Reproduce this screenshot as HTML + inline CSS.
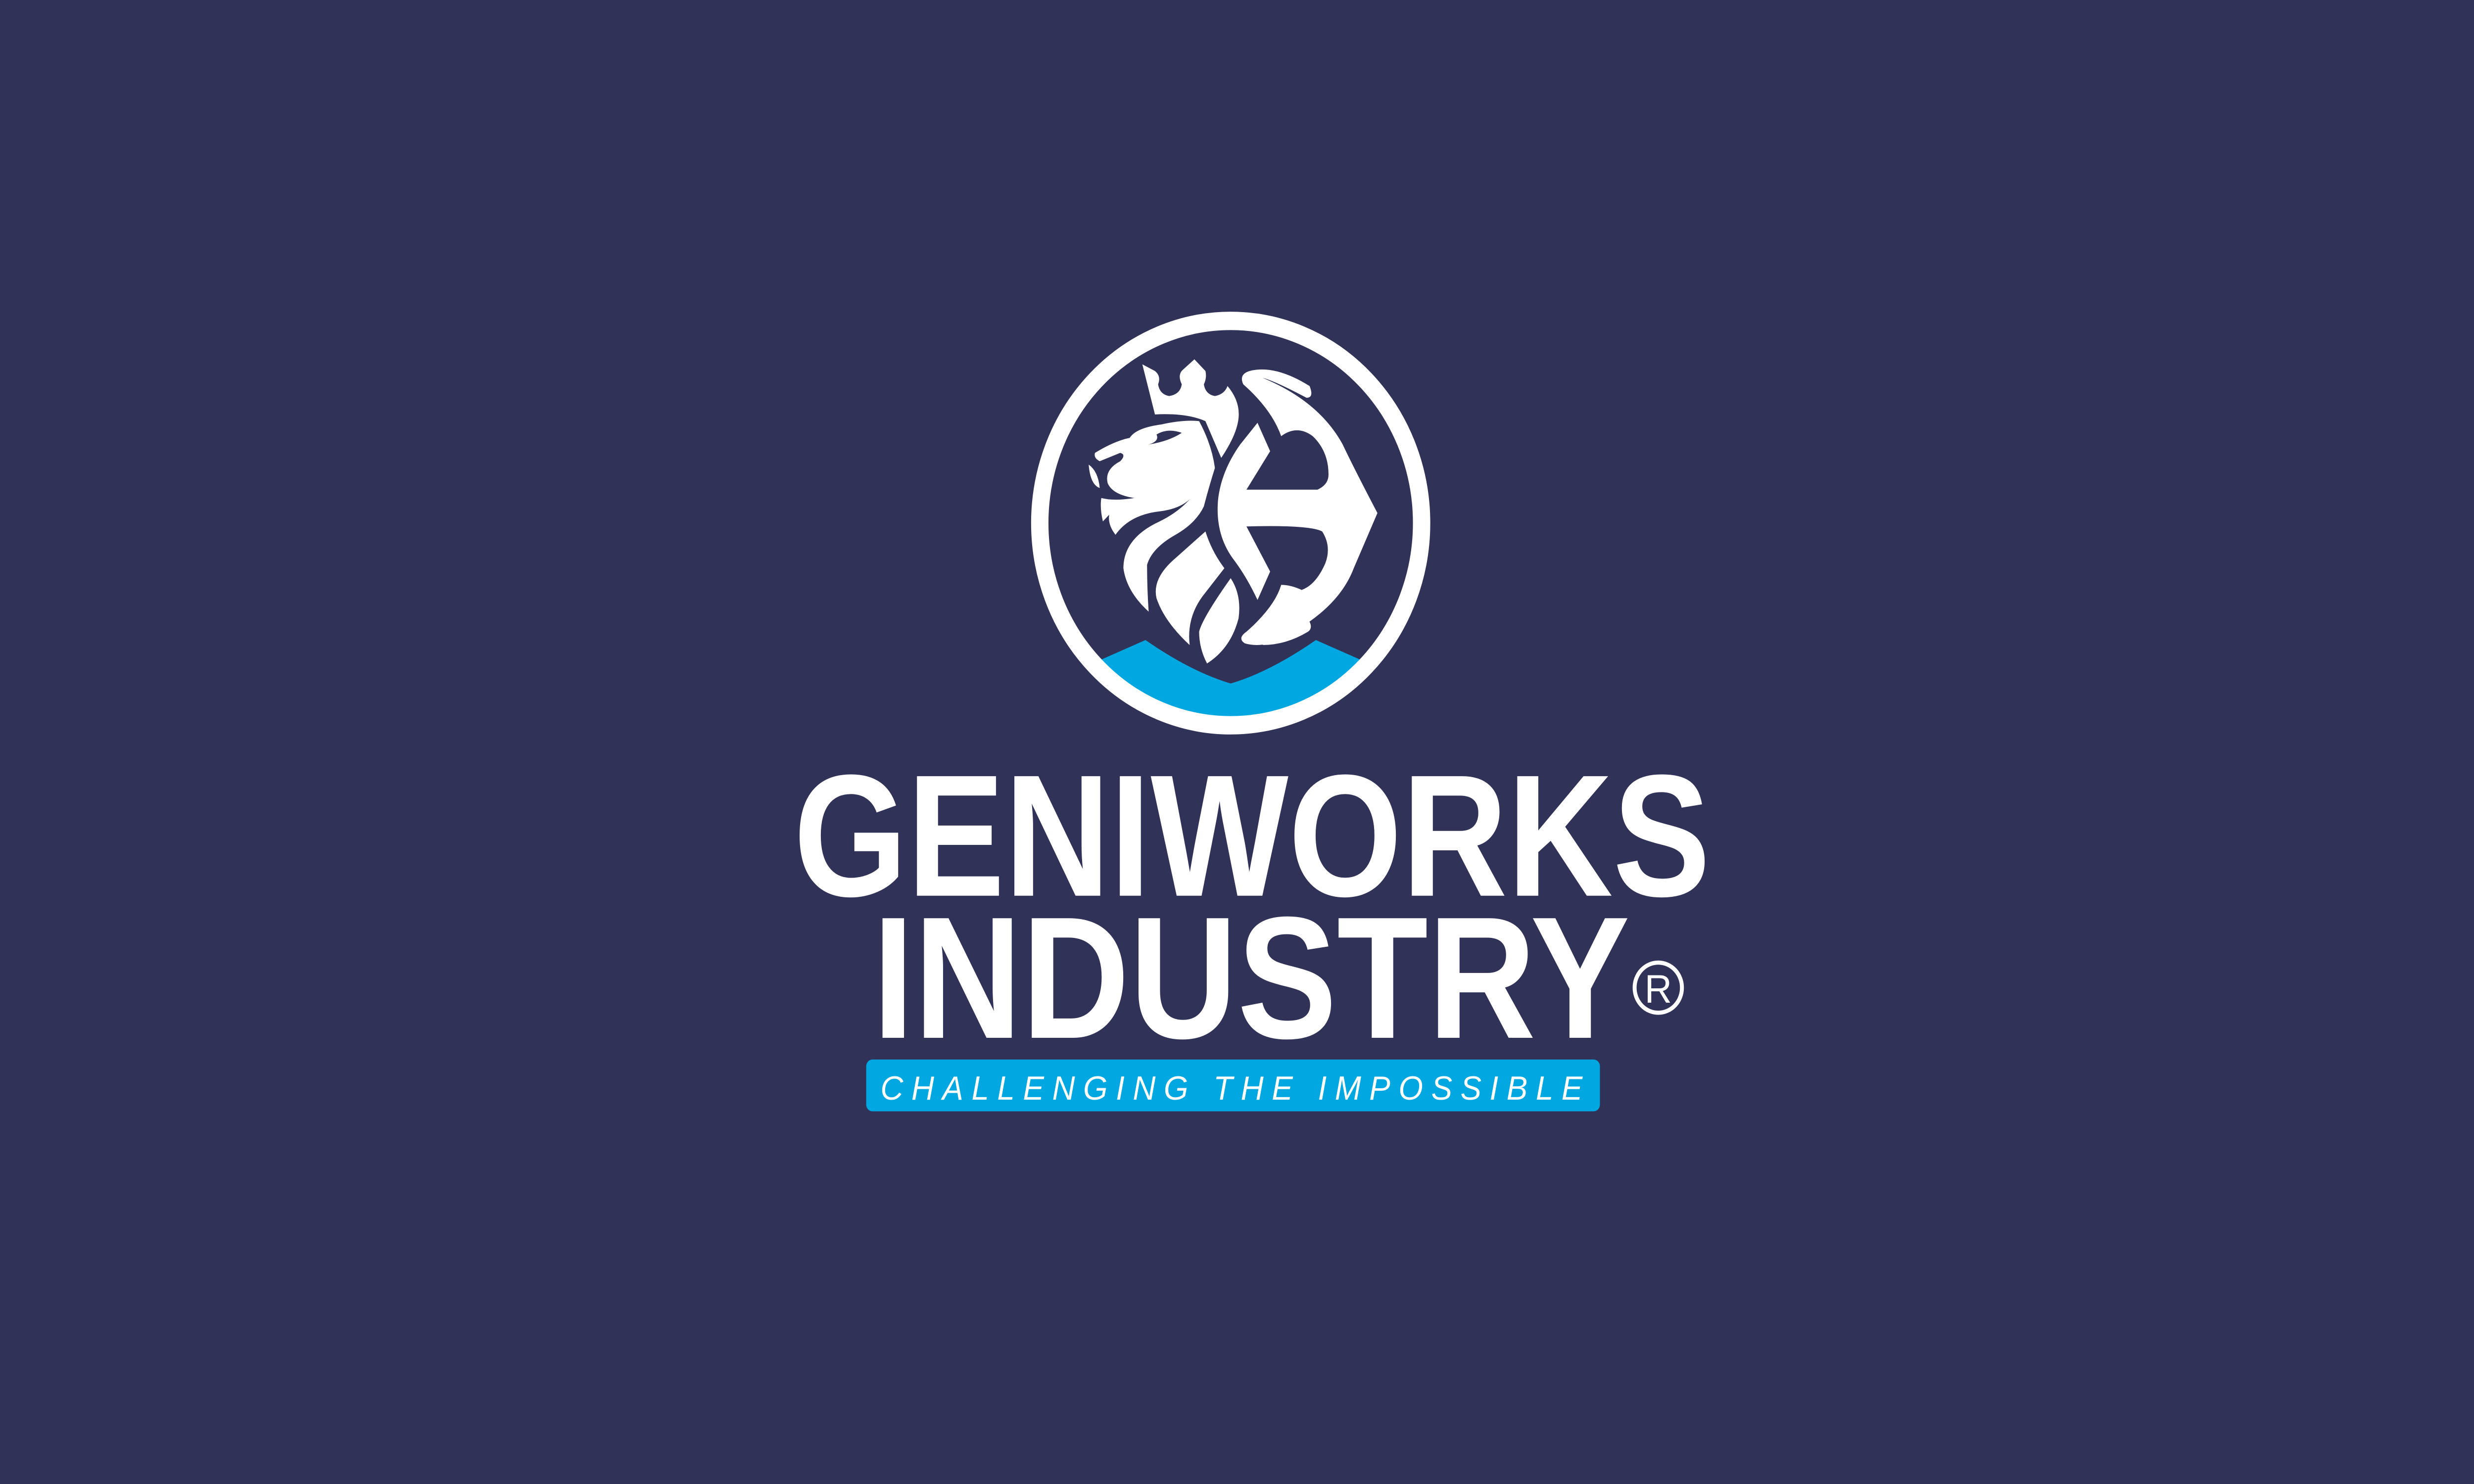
<!DOCTYPE html>
<html><head><meta charset="utf-8"><style>
html,body{margin:0;padding:0;background:#303257;width:100%;height:100%;overflow:hidden;}
svg{display:block;position:absolute;left:0;top:0;width:100%;height:100%;}
</style></head><body>
<svg viewBox="0 0 1568 888" preserveAspectRatio="none" xmlns="http://www.w3.org/2000/svg">
<rect x="0" y="0" width="1568" height="888" fill="#303257"/>
<defs><clipPath id="inner"><circle cx="780" cy="313" r="117"/></clipPath></defs>
<g>
<path clip-path="url(#inner)" fill="#00a7e1" d="M690 398 L726 383 Q755 402 780 409 Q805 402 834 383 L870 398 L870 450 L690 450 Z"/>
<circle cx="780" cy="313" r="121" fill="none" stroke="#fff" stroke-width="11"/>
<g fill="#fff">
<path d="M724 218 L732 222 Q736 225 734 230 Q735 236 741 237 Q748 236 749 230 Q746 224 750 221 L757 215 L764 222 Q765 226 763 230 Q764 236 770 237 Q776 236 778 231 Q786 240 785 250 Q784 260 774 274 L764 252 Q752 247 732 248 Z"/>
<path d="M736 254 Q750 251 760 252 Q768 266 770 280 Q766 292 763 303 Q758 313 745 320 Q730 328 727 338 Q727 352 728 366 Q714 354 712 340 Q712 322 735 312 Q750 305 758 294 Q752 304 735 306 Q716 308 707 320 Q702 314 703 308 L699 312 Q697 304 698 298 Q706 300 719 298 Q705 296 702 289 Q700 281 710 276 Q714 272 710 271 L697 276 Q693 274 694 271 Q706 264 716 262 Q720 256 736 254 Z M728 266 Q741 264 749 259 Q740 256 733 260 Q735 264 728 266 Z"/>
<path d="M690 278 Q696 282 697 292 Q691 290 690 278 Z"/>
<path d="M764 318 Q768 330 776 340 L762 357 Q752 370 754 386 Q738 372 733 358 Q730 346 745 334 Z"/>
<path d="M780 346 Q787 356 785 370 Q780 388 765 397 Q760 388 760 378 Q762 370 780 346 Z"/>
<path d="M797 253 L805 270 L790 293 L835 293 Q842 290 842 284 Q842 270 832 261 Q822 254 812 261 Q806 245 788 230 Q785 224 792 222 Q808 218 830 231 Q833 238 828 238 Q808 228 800 226 Q836 240 851 266 Q858 280 873 307 L858 340 Q848 365 812 382 Q800 388 789 385 Q784 382 790 378 Q808 363 812 350 Q818 350 825 353 Q834 350 840 337 Q844 327 838 318 Q830 314 790 315 L805 342 L797 359 Q790 345 782 335 Q770 320 772 299 Q774 282 786 266 Z"/>
<path d="M800 386 Q815 380 830 372 Q832 376 829 378 Q815 386 800 386 Z"/>
</g>
</g>
<text x="503" y="536" font-family="Liberation Sans, sans-serif" font-weight="bold" font-size="104" fill="#fff" textLength="581" lengthAdjust="spacingAndGlyphs">GENIWORKS</text>
<text x="553" y="621" font-family="Liberation Sans, sans-serif" font-weight="bold" font-size="104" fill="#fff" textLength="480" lengthAdjust="spacingAndGlyphs">INDUSTRY</text>
<g>
<circle cx="1051" cy="591" r="15" fill="none" stroke="#fff" stroke-width="2.5"/>
<text x="1051" y="600" text-anchor="middle" font-family="Liberation Sans, sans-serif" font-size="24" fill="#fff">R</text>
</g>
<rect x="549" y="634" width="465" height="31" rx="4" fill="#00a7e1"/>
<text x="558" y="658" font-family="Liberation Sans, sans-serif" font-style="italic" font-size="20" fill="#fff" textLength="445" lengthAdjust="spacing">CHALLENGING THE IMPOSSIBLE</text>
</svg>
</body></html>
